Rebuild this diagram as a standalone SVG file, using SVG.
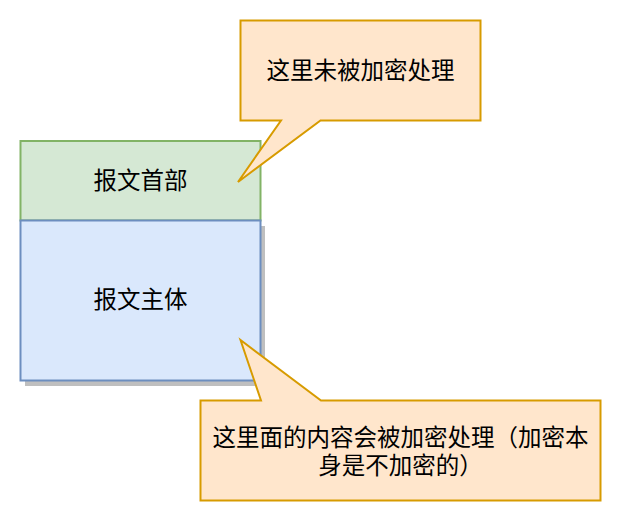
<svg xmlns="http://www.w3.org/2000/svg" width="622" height="522" viewBox="0 0 622 522">
<style>
.t{font-family:"Noto Sans CJK SC","Noto Sans",sans-serif;font-size:23.5px;fill:#000;text-anchor:middle;dominant-baseline:central}
.call{fill:#ffe6cc;stroke:#d79b00;stroke-width:2}
</style>
<rect width="622" height="522" fill="#fff"/>
<g id="body-shadow"><rect x="25" y="226" width="240" height="160" fill="#bfbfbf"/></g>
<g id="header">
<rect x="20.5" y="141" width="240" height="79.5" fill="#d5e8d4" stroke="#82b366" stroke-width="2"/>
<text class="t" x="140.5" y="178.5">报文首部</text>
</g>
<g id="body">
<rect x="20.5" y="220.5" width="240" height="160" fill="#dae8fc" stroke="#6c8ebf" stroke-width="2"/>
<text class="t" x="140.5" y="298">报文主体</text>
</g>
<g id="callout-top">
<path class="call" d="M240.5 20.5 H480.5 V120.5 H320.5 L238 182 L281 120.5 H240.5 Z"/>
<text class="t" x="360.5" y="68.5">这里未被加密处理</text>
</g>
<g id="callout-bottom">
<path class="call" d="M200.5 400.5 H261 L240.5 340 L321 400.5 H600.5 V500.5 H200.5 Z"/>
<text class="t" x="400.5" y="435.5">这里面的内容会被加密处理（加密本</text>
<text class="t" x="400.5" y="464">身是不加密的）</text>
</g>
<g id="connectors"></g>
</svg>
